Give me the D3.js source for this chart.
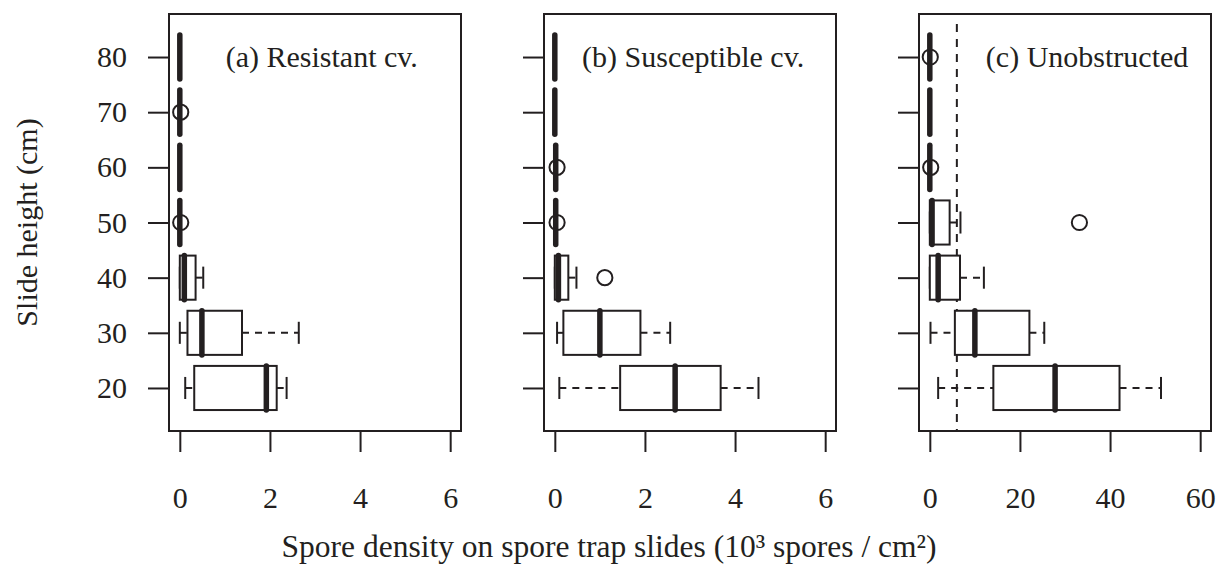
<!DOCTYPE html>
<html>
<head>
<meta charset="utf-8">
<script src="https://cdn.jsdelivr.net/npm/d3@7.9.0/dist/d3.min.js"></script>
<style>
  body { margin: 0; background: #fff; }
  text { font-family: "Liberation Serif", "Times New Roman", serif; fill: #231f20; }
</style>
</head>
<body>
<svg id="chart" width="1218" height="566"></svg>
<script>
// slide heights (cm), one box per height
const heights = [20, 30, 40, 50, 60, 70, 80];

// box stats per height: [lower whisker, q1, median, q3, upper whisker]
const resistant = [
  [0.12, 0.32, 1.92, 2.15, 2.37],
  [0, 0.17, 0.49, 1.38, 2.64],
  [0, 0, 0.1, 0.35, 0.52],
  [0, 0, 0, 0, 0],
  [0, 0, 0, 0, 0],
  [0, 0, 0, 0, 0],
  [0, 0, 0, 0, 0]
];
const susceptible = [
  [0.1, 1.45, 2.67, 3.68, 4.52],
  [0.05, 0.19, 1.0, 1.9, 2.56],
  [0, 0, 0.08, 0.3, 0.48],
  [0.02, 0.02, 0.02, 0.02, 0.02],
  [0.02, 0.02, 0.02, 0.02, 0.02],
  [0, 0, 0, 0, 0],
  [0, 0, 0, 0, 0]
];
const unobstructed = [
  [1.85, 14.1, 27.8, 42.1, 51.3],
  [0.15, 5.56, 10.0, 22.1, 25.4],
  [0, 0, 1.85, 6.7, 12.0],
  [0, 0, 0.5, 4.4, 6.8],
  [0, 0, 0, 0, 0],
  [0, 0, 0, 0, 0],
  [0, 0, 0, 0, 0]
];

// outliers: [height, value]
const resistantOut = [[50, 0.02], [70, 0.02]];
const susceptibleOut = [[40, 1.11], [50, 0.05], [60, 0.05]];
const unobstructedOut = [[50, 33.2], [60, 0.2], [80, 0.1]];

const panelTitles = ['(a) Resistant cv.', '(b) Susceptible cv.', '(c) Unobstructed'];
const smallTicks = [0, 2, 4, 6];
const largeTicks = [0, 20, 40, 60];
const yTicks = [20, 30, 40, 50, 60, 70, 80];
const threshold = 6; // dashed reference line in panel (c)

const ink = '#231f20';
const fontSize = 30;
const svg = d3.select('#chart');

const plotTop = 14, plotBottom = 431, pw = 292;
const lefts = [169, 544, 919];

const y = d3.scaleLinear().domain([12.2, 87.8]).range([plotBottom, plotTop]);
const halfBox = 4, halfStaple = 2; // in cm units

const panels = [
  { stats: resistant, out: resistantOut, ticks: smallTicks, max: 6, titleAt: 3.15 },
  { stats: susceptible, out: susceptibleOut, ticks: smallTicks, max: 6, titleAt: 3.07 },
  { stats: unobstructed, out: unobstructedOut, ticks: largeTicks, max: 60, titleAt: 34.9 }
];

panels.forEach((p, i) => {
  const pad = p.max * 0.04;
  const x = d3.scaleLinear().domain([-pad, p.max + pad]).range([lefts[i], lefts[i] + pw]);
  const g = svg.append('g');

  // axes
  const xAxis = g.append('g')
    .attr('transform', `translate(0,${plotBottom})`)
    .call(d3.axisBottom(x).tickValues(p.ticks).tickSize(21).tickPadding(35).tickFormat(d3.format('d')));
  const yAxis = g.append('g')
    .attr('transform', `translate(${lefts[i]},0)`)
    .call(d3.axisLeft(y).tickValues(yTicks).tickSize(21).tickPadding(21)
      .tickFormat(i === 0 ? d3.format('d') : () => ''));
  [xAxis, yAxis].forEach(a => {
    a.select('.domain').remove();
    a.selectAll('line').attr('stroke', ink).attr('stroke-width', 2);
    a.selectAll('text').attr('font-size', fontSize).attr('fill', ink)
      .style('font-family', '"Liberation Serif", serif');
  });

  if (i === 2) {
    g.append('line')
      .attr('x1', x(threshold)).attr('x2', x(threshold))
      .attr('y1', plotTop + 10).attr('y2', plotBottom)
      .attr('stroke', ink).attr('stroke-width', 2).attr('stroke-dasharray', '8,7');
  }

  // boxes
  p.stats.forEach((s, j) => {
    const h = heights[j];
    const [lo, q1, med, q3, hi] = s;
    const yc = y(h), yt = y(h + halfBox), yb = y(h - halfBox);
    const st = y(h + halfStaple), sb = y(h - halfStaple);
    const b = g.append('g');

    // whiskers
    [[lo, q1], [q3, hi]].forEach(([a, c]) => {
      if (c - a <= 0) return;
      b.append('line').attr('x1', x(a)).attr('x2', x(c)).attr('y1', yc).attr('y2', yc)
        .attr('stroke', ink).attr('stroke-width', 2).attr('stroke-dasharray', '7,6');
    });
    [lo, hi].forEach(v => {
      if (hi - lo <= 0) return;
      b.append('line').attr('x1', x(v)).attr('x2', x(v)).attr('y1', st).attr('y2', sb)
        .attr('stroke', ink).attr('stroke-width', 2);
    });

    b.append('rect')
      .attr('x', x(q1)).attr('y', yt)
      .attr('width', Math.max(0, x(q3) - x(q1))).attr('height', yb - yt)
      .attr('fill', '#fff').attr('stroke', ink).attr('stroke-width', 2);

    b.append('line').attr('x1', x(med)).attr('x2', x(med)).attr('y1', yt).attr('y2', yb)
      .attr('stroke', ink).attr('stroke-width', 5.5).attr('stroke-linecap', 'round');
  });

  // outliers
  g.selectAll('circle.out').data(p.out).join('circle')
    .attr('class', 'out')
    .attr('cx', d => x(d[1])).attr('cy', d => y(d[0])).attr('r', 7.6)
    .attr('fill', 'none').attr('stroke', ink).attr('stroke-width', 2);

  // frame
  g.append('rect')
    .attr('x', lefts[i]).attr('y', plotTop).attr('width', pw).attr('height', plotBottom - plotTop)
    .attr('fill', 'none').attr('stroke', ink).attr('stroke-width', 2);

  g.append('text')
    .attr('x', x(p.titleAt)).attr('y', 67)
    .attr('text-anchor', 'middle').attr('font-size', fontSize)
    .text(panelTitles[i]);
});

svg.append('text')
  .attr('x', 609).attr('y', 557)
  .attr('text-anchor', 'middle').attr('font-size', 31.5)
  .text('Spore density on spore trap slides (10³ spores / cm²)');

svg.append('text')
  .attr('transform', `translate(37,${(plotTop + plotBottom) / 2}) rotate(-90)`)
  .attr('text-anchor', 'middle').attr('font-size', fontSize)
  .text('Slide height (cm)');
</script>
</body>
</html>
